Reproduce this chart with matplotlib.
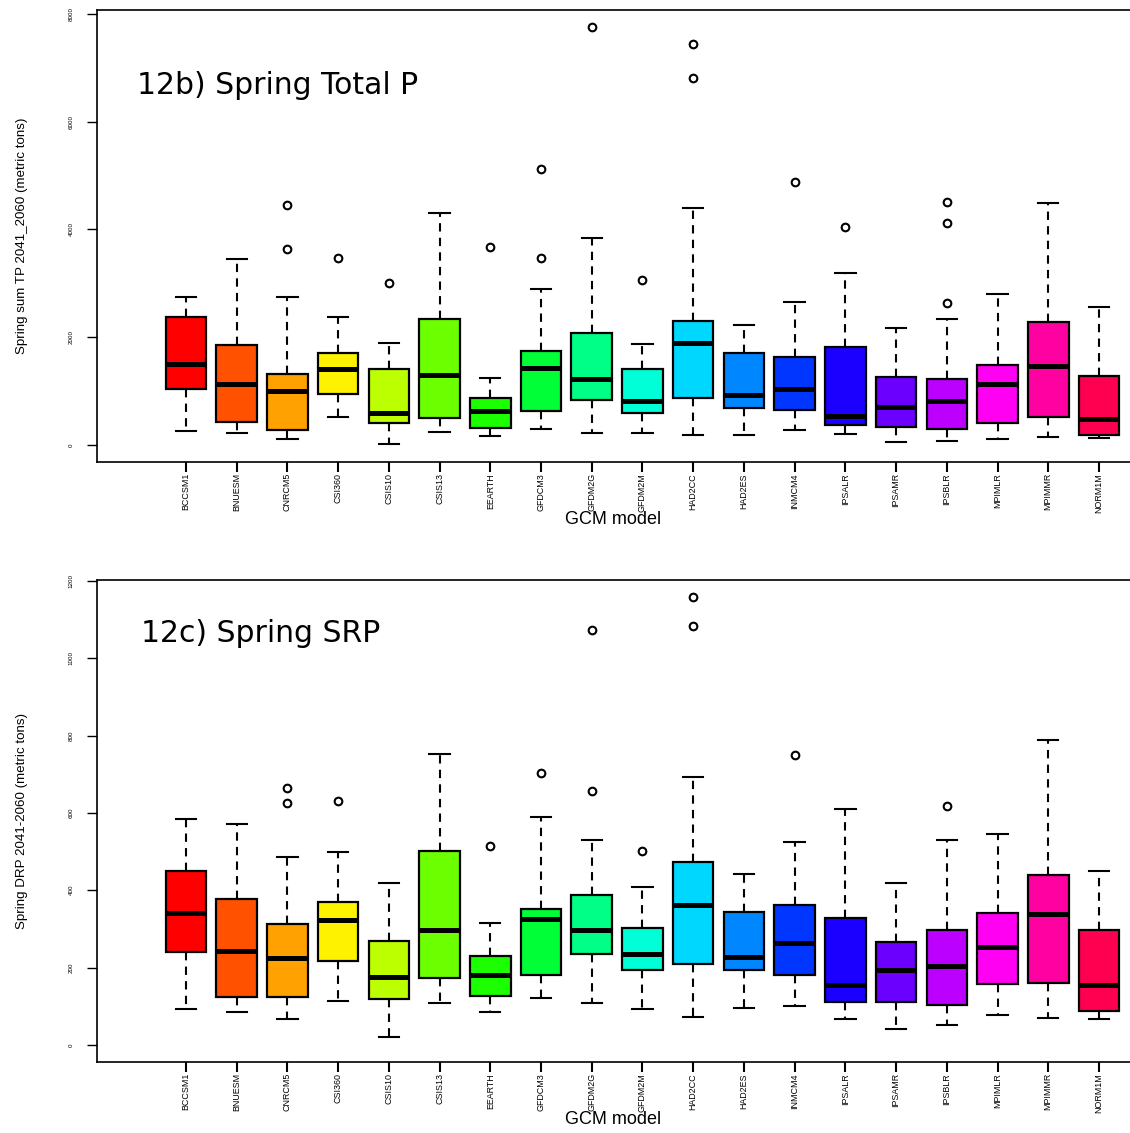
import colorsys

import matplotlib
matplotlib.use("Agg")
import matplotlib.pyplot as plt

# GCM models on the x axis
models = ["BCCSM1", "BNUESM", "CNRCM5", "CSI360", "CSIS10", "CSIS13", "EEARTH",
          "GFDCM3", "GFDM2G", "GFDM2M", "HAD2CC", "HAD2ES", "INMCM4", "IPSALR",
          "IPSAMR", "IPSBLR", "MPIMLR", "MPIMMR", "NORM1M"]

# 12b) spring total P (metric tons)
tp_whislo = [254, 217, 111, 526, 19, 241, 173, 303, 217, 217, 180, 180, 273, 204, 56, 80, 117, 154, 124]
tp_q1 = [1034, 433, 278, 947, 408, 501, 321, 625, 829, 588, 866, 687, 644, 365, 328, 297, 414, 520, 186]
tp_med = [1509, 1126, 997, 1411, 600, 1293, 631, 1429, 1225, 823, 1887, 934, 1039, 538, 699, 823, 1138, 1466, 477]
tp_q3 = [2381, 1850, 1312, 1708, 1405, 2344, 878, 1739, 2073, 1411, 2301, 1708, 1633, 1813, 1268, 1225, 1485, 2288, 1286]
tp_whishi = [2752, 3452, 2752, 2376, 1899, 4306, 1238, 2895, 3848, 1881, 4393, 2221, 2660, 3187, 2166, 2344, 2803, 4497, 2556]
tp_out = [[], [], [4454, 3638], [3471], [3012], [], [3675], [5123, 3465], [7758], [3062],
          [7449, 6812], [], [4887], [4040], [], [4510, 4120, 2642], [], [], []]

# 12c) spring DRP (metric tons)
srp_whislo = [92, 85, 66, 114, 21, 108, 84, 122, 109, 93, 72, 96, 101, 67, 41, 52, 78, 70, 67]
srp_q1 = [241, 125, 125, 218, 118, 174, 127, 181, 235, 194, 209, 194, 181, 111, 111, 103, 158, 160, 88]
srp_med = [340, 243, 226, 322, 175, 297, 180, 326, 297, 235, 362, 228, 264, 155, 194, 204, 253, 339, 155]
srp_q3 = [450, 378, 312, 370, 269, 502, 231, 352, 388, 303, 473, 344, 362, 328, 266, 297, 341, 440, 297]
srp_whishi = [584, 572, 487, 498, 420, 752, 315, 590, 530, 409, 693, 442, 525, 610, 419, 530, 546, 789, 450]
srp_out = [[], [], [665, 626], [631], [], [], [515], [703], [1073, 657], [502],
           [1159, 1084], [], [750], [], [], [618], [], [], []]

W, H = 1130, 1133
colors = [colorsys.hsv_to_rgb(i / len(models), 1, 1) for i in range(len(models))]
NARROW = ["Liberation Sans Narrow", "Liberation Sans"]


def make_stats(lo, q1, med, q3, hi, out):
    return [dict(whislo=a, q1=b, med=c, q3=d, whishi=e, fliers=f)
            for a, b, c, d, e, f in zip(lo, q1, med, q3, hi, out)]


def panel(rect_px, stats, ylim, yticks, ylabel, title, title_xy):
    left, bottom, top = rect_px
    ax = fig.add_axes([left / W, 1 - bottom / H, 1 - left / W, (bottom - top) / H])
    pos = list(range(1, len(models) + 1))
    bp = ax.bxp(stats, positions=pos, widths=0.8, patch_artist=True,
                boxprops=dict(linewidth=1.6, edgecolor="black"),
                medianprops=dict(color="black", linewidth=3.6),
                whiskerprops=dict(color="black", linewidth=1.5, linestyle=(0, (4, 3))),
                capprops=dict(color="black", linewidth=1.5),
                capwidths=0.4,
                flierprops=dict(marker="o", markersize=5.5, markerfacecolor="none",
                                markeredgecolor="black", markeredgewidth=1.5))
    for patch, c in zip(bp["boxes"], colors):
        patch.set_facecolor(c)

    # first tick sits 89 px right of the frame, spacing 50.7 px
    step = 50.72
    ax.set_xlim(1 - 89 / step, 1 + (W - 186) / step)
    ax.set_ylim(*ylim)
    ax.set_xticks(pos)
    ax.set_xticklabels(models, rotation=90, fontsize=6.4, family=NARROW)
    ax.set_yticks(yticks)
    ax.set_yticklabels([str(t) for t in yticks], rotation=90, va="center",
                       fontsize=4.5, family=NARROW)
    ax.tick_params(axis="x", length=7, width=1.5, pad=1)
    ax.tick_params(axis="y", length=7, width=1.0, pad=10)
    for s in ["left", "bottom", "top"]:
        ax.spines[s].set_linewidth(1.2)
    ax.spines["right"].set_visible(False)
    ax.set_xlabel("GCM model", fontsize=13, family="Liberation Sans", labelpad=-1)
    ax.set_ylabel(ylabel, fontsize=9.6, family=NARROW, labelpad=29)
    ax.text(title_xy[0] / W, 1 - title_xy[1] / H, title, transform=fig.transFigure,
            fontsize=21.5, family="DejaVu Sans", va="center", ha="left")
    return ax


fig = plt.figure(figsize=(W / 100, H / 100), dpi=100)

panel((97, 462, 10), make_stats(tp_whislo, tp_q1, tp_med, tp_q3, tp_whishi, tp_out),
      (-316, 8074), [0, 2000, 4000, 6000, 8000],
      "Spring sum TP 2041_2060 (metric tons)", "12b) Spring Total P", (137, 86))

panel((97, 1062, 580), make_stats(srp_whislo, srp_q1, srp_med, srp_q3, srp_whishi, srp_out),
      (-44, 1202), [0, 200, 400, 600, 800, 1000, 1200],
      "Spring DRP 2041-2060 (metric tons)", "12c) Spring SRP", (141, 633))

fig.savefig("out.png", dpi=100)
